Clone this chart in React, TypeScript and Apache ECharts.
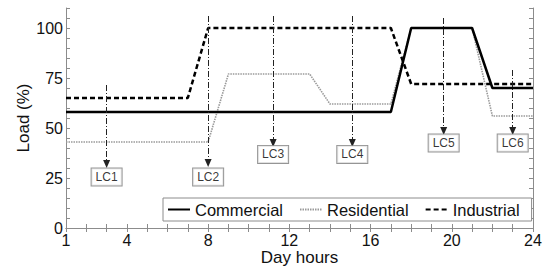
import React, { useEffect, useRef } from "react";
import * as echarts from "echarts";

const hours = Array.from({ length: 24 }, (_, i) => i + 1);
const commercialLoad = [58, 58, 58, 58, 58, 58, 58, 58, 58, 58, 58, 58, 58, 58, 58, 58, 58, 100, 100, 100, 100, 70, 70, 70];
const residentialLoad = [43, 43, 43, 43, 43, 43, 43, 43, 77, 77, 77, 77, 77, 62, 62, 62, 62, 100, 100, 100, 100, 56, 56, 56];
const industrialLoad = [65, 65, 65, 65, 65, 65, 65, 100, 100, 100, 100, 100, 100, 100, 100, 100, 100, 72, 72, 72, 72, 72, 72, 72];
const xTickLabels = [1, 4, 8, 12, 16, 20, 24];
const yTickLabels = [0, 25, 50, 75, 100];

const lcNames = ["LC1", "LC2", "LC3", "LC4", "LC5", "LC6"];
const lcHour = [3, 8, 11.2, 15.1, 19.6, 23];
const lcArrowFrom = [71.5, 106, 106, 106, 105, 79];
const lcArrowTo = [32, 32.5, 42.5, 42.5, 48.5, 48.5];
const lcBoxLoad = [25.5, 25.5, 36.8, 36.8, 42.5, 42.5];

const FONT = "Liberation Sans, Arial, Helvetica, sans-serif";

export default function App() {
  const ref = useRef<HTMLDivElement>(null);
  useEffect(() => {
    if (!ref.current) return;
    const chart = echarts.init(ref.current, undefined, { renderer: "svg" });
    const axisGray = "#8c8c8c";
    const baseX = {
      type: "value" as const,
      min: 1,
      max: 24,
      interval: 1,
      splitLine: { show: false },
      axisLine: { show: true, lineStyle: { color: axisGray, width: 1 } },
      axisTick: { show: true, inside: true, length: 4, lineStyle: { color: axisGray } },
    };
    const baseY = {
      type: "value" as const,
      min: 0,
      max: 110,
      interval: 5,
      splitLine: { show: false },
      axisLine: { show: true, lineStyle: { color: axisGray, width: 1 } },
      axisTick: { show: true, inside: true, length: 4, lineStyle: { color: axisGray } },
    };
    const toPairs = (vals: number[]) => hours.map((h, i) => [h, vals[i]]);
    chart.setOption({
      animation: false,
      textStyle: { fontFamily: FONT },
      grid: { left: 66, right: 14, top: 8, bottom: 42 },
      xAxis: [
        {
          ...baseX,
          position: "bottom",
          name: "Day hours",
          nameLocation: "middle",
          nameGap: 21,
          nameMoveOverlap: false,
          nameTextStyle: { fontSize: 17, color: "#111", fontFamily: FONT },
          axisLabel: {
            fontSize: 16,
            color: "#111",
            margin: 4,
            fontFamily: FONT,
            formatter: (v: number) => (xTickLabels.includes(v) ? String(v) : ""),
          },
        },
        { ...baseX, position: "top", axisLabel: { show: false } },
      ],
      yAxis: [
        {
          ...baseY,
          position: "left",
          name: "Load (%)",
          nameLocation: "middle",
          nameGap: 34,
          nameMoveOverlap: false,
          nameTextStyle: { fontSize: 17, color: "#111", fontFamily: FONT },
          axisLabel: {
            fontSize: 16,
            color: "#111",
            margin: 3,
            fontFamily: FONT,
            formatter: (v: number) => (yTickLabels.includes(v) ? String(v) : ""),
          },
        },
        { ...baseY, position: "right", axisLabel: { show: false } },
      ],
      legend: {
        data: ["Commercial", "Residential", "Industrial"],
        left: 163,
        top: 198,
        orient: "horizontal",
        backgroundColor: "#fff",
        borderColor: "#8c8c8c",
        borderWidth: 1,
        borderRadius: 0,
        padding: [3, 12, 3, 4],
        itemWidth: 22,
        itemHeight: 14,
        itemGap: 16,
        itemStyle: { opacity: 0 },
        textStyle: { fontSize: 16.5, color: "#111", fontFamily: FONT },
      },
      series: [
        {
          name: "Residential",
          type: "line",
          data: toPairs(residentialLoad),
          symbol: "none",
          z: 2,
          lineStyle: { color: "#9a9a9a", width: 1.6, type: [1.5, 1] },
          itemStyle: { color: "#9a9a9a" },
        },
        {
          name: "Industrial",
          type: "line",
          data: toPairs(industrialLoad),
          symbol: "none",
          z: 3,
          lineStyle: { color: "#000", width: 2.5, type: [5, 3] },
          itemStyle: { color: "#000" },
        },
        {
          name: "Commercial",
          type: "line",
          data: toPairs(commercialLoad),
          symbol: "none",
          z: 4,
          lineStyle: { color: "#000", width: 2.5, type: "solid" },
          itemStyle: { color: "#000" },
        },
        {
          name: "lc",
          type: "scatter",
          z: 5,
          symbolSize: 1,
          itemStyle: { color: "rgba(0,0,0,0)" },
          data: lcNames.map((n, i) => ({ name: n, value: [lcHour[i], lcBoxLoad[i]] })),
          label: {
            show: true,
            position: "inside",
            formatter: (p: any) => p.name,
            fontSize: 12,
            color: "#000",
            fontFamily: FONT,
            backgroundColor: "#fff",
            borderColor: "#7a7a7a",
            borderWidth: 1,
            padding: [3, 4, 2, 4],
          },
          emphasis: { disabled: true },
          markLine: {
            silent: true,
            symbol: ["none", "triangle"],
            symbolSize: [7, 8],
            label: { show: false },
            lineStyle: { color: "#222", width: 1, type: [6, 2, 1, 2] },
            data: lcNames.map((_, i) => [
              { coord: [lcHour[i], lcArrowFrom[i]] },
              { coord: [lcHour[i], lcArrowTo[i]] },
            ]),
          },
        },
      ],
    });
    return () => chart.dispose();
  }, []);
  return (
    <div
      ref={ref}
      style={{ position: "fixed", left: 0, top: 0, width: 547, height: 271, background: "#fff" }}
    />
  );
}
